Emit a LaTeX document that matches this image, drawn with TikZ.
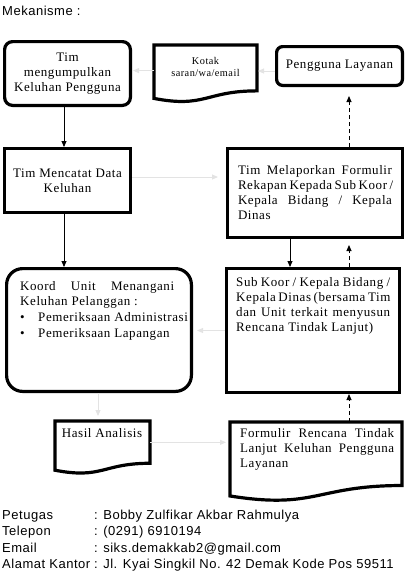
\documentclass[tikz,border=0pt]{standalone}
\usepackage{fontspec}
\setmainfont{Liberation Serif}[LetterSpace=4.5]
\setsansfont{Liberation Sans}[LetterSpace=4]
\usetikzlibrary{arrows.meta,calc}
% one justified line of a text block
\newcommand{\jl}[1]{\makebox[154pt][s]{#1}}
% flowchart "document" outline round an empty node
\newcommand{\docshape}[1]{%
  \draw[line width=3.2pt] (#1.north west) -- (#1.north east)
    -- ($(#1.north east)!0.802!(#1.south east)$)
    .. controls ($(#1.north)!0.802!(#1.south)$) and ($(#1.north)!1.107!(#1.south)$)
    .. ($(#1.north west)!0.934!(#1.south west)$) -- cycle;}
\begin{document}
\begin{tikzpicture}[x=1pt,y=-1pt,
  frame/.style={draw,line width=3.2pt,inner sep=0pt},
  round/.style={frame,rounded corners=8pt},
  doc/.style={inner sep=0pt,outer sep=1.6pt},
  txt/.style={inner sep=0pt,font=\fontsize{13}{15}\selectfont},
  small/.style={inner sep=0pt,font=\fontsize{10.3}{12}\selectfont},
  foot/.style={inner sep=0pt,anchor=base west,font=\sffamily\fontsize{13}{16}\selectfont},
  arr/.style={-{Triangle[length=6pt,width=5pt]},line width=0.9pt},
  dasharr/.style={arr,dash pattern=on 4pt off 3pt},
  pale/.style={-{Triangle[length=6pt,width=5pt]},draw=gray!22,line width=1pt}]
\useasboundingbox (0,0) rectangle (414,582);
\node[foot] (judul) at (2,15) {Mekanisme :};
% top row
\node[round,txt,align=center,minimum width=125.8pt,minimum height=63.8pt] (tim) at (67.5,73.5) {Tim\\mengumpulkan\\Keluhan Pengguna};
\node[doc,minimum width=99.8pt,minimum height=54pt] (kotak) at (205.5,73.6) {};
\docshape{kotak}
\node[small,align=center,anchor=north] (kotaktxt) at (205.5,57) {Kotak\\saran/wa/email};
\node[round,txt,rounded corners=6pt,minimum width=125.8pt,minimum height=38.8pt] (pengguna) at (339.5,66) {Pengguna Layanan};
% second row
\node[frame,txt,align=center,minimum width=125.8pt,minimum height=63.8pt] (catat) at (67.5,180.5) {Tim Mencatat Data\\Keluhan};
\node[frame,txt,align=left,minimum width=174.8pt,minimum height=88.8pt] (lapor) at (315,193) {\jl{Tim Melaporkan Formulir}\\\jl{Rekapan Kepada Sub Koor /}\\\jl{Kepala Bidang / Kepala}\\Dinas};
% third row
\node[round,rounded corners=16pt,minimum width=184.8pt,minimum height=122.8pt] (koord) at (99,330) {};
\node[txt,align=left,anchor=north west] (koordtxt) at (20,281) {\jl{Koord Unit Menangani}\\Keluhan Pelanggan :\\[1pt]\makebox[18pt][l]{\textbullet}Pemeriksaan Administrasi\\[1pt]\makebox[18pt][l]{\textbullet}Pemeriksaan Lapangan};
\node[frame,minimum width=172.8pt,minimum height=123.8pt] (kaji) at (313,330.5) {};
\node[txt,align=left,anchor=north west] (kajitxt) at (236,277) {\jl{Sub Koor / Kepala Bidang /}\\\jl{Kepala Dinas (bersama Tim}\\\jl{dan Unit terkait menyusun}\\Rencana Tindak Lanjut)};
% bottom row
\node[doc,minimum width=91.8pt,minimum height=49.5pt] (hasil) at (102.5,447.35) {};
\docshape{hasil}
\node[txt,anchor=base] (hasiltxt) at (102,437) {Hasil Analisis};
\node[doc,minimum width=168.8pt,minimum height=76pt] (form) at (316,461.6) {};
\docshape{form}
\node[txt,align=left,anchor=north west] (formtxt) at (240,428) {\jl{Formulir Rencana Tindak}\\\jl{Lanjut Keluhan Pengguna}\\Layanan};
% connectors
\coordinate (lx) at (64,0);
\coordinate (mx) at (290,0);
\coordinate (rx) at (349,0);
\coordinate (bx) at (98,0);
\draw[arr] (lx |- tim.south) -- (lx |- catat.north);
\draw[arr] (lx |- catat.south) -- (lx |- koord.north);
\draw[arr] (mx |- lapor.south) -- (mx |- kaji.north);
\draw[dasharr,shorten >=9pt] (rx |- lapor.north) -- (rx |- pengguna.south);
\draw[dasharr,shorten >=6pt] (rx |- kaji.north) -- (rx |- lapor.south);
\draw[dasharr] (rx |- form.north) -- (rx |- kaji.south);
\draw[pale,shorten >=1pt] ([yshift=-5pt]pengguna.west) -- ([yshift=-5pt]pengguna.west -| kotak.east);
\draw[pale,shorten >=1pt] ([yshift=3pt]kotak.west) -- ([yshift=3pt]kotak.west -| tim.east);
\draw[pale,shorten >=8pt] ([yshift=3.5pt]catat.east) -- ([yshift=3.5pt]catat.east -| lapor.west);
\draw[pale,shorten >=4pt] (kaji.west) -- (kaji.west -| koord.east);
\draw[pale,shorten >=5pt] (bx |- koord.south) -- (bx |- hasil.north);
\draw[pale,shorten >=4pt] ([yshift=5pt]hasil.east) -- ([yshift=5pt]hasil.east -| form.west);
% contact lines
\node[foot] (lpetugas) at (2,519) {Petugas};
\node[foot] (vpetugas) at (94,519) {: Bobby Zulfikar Akbar Rahmulya};
\node[foot] (ltelepon) at (2,535.5) {Telepon};
\node[foot] (vtelepon) at (94,535.5) {: (0291) 6910194};
\node[foot] (lemail) at (2,552) {Email};
\node[foot] (vemail) at (94,552) {: siks.demakkab2@gmail.com};
\node[foot] (lalamat) at (2,568.5) {Alamat Kantor};
\node[foot] (valamat) at (94,568.5) {: Jl. Kyai Singkil No. 42 Demak Kode Pos 59511};
\end{tikzpicture}
\end{document}
